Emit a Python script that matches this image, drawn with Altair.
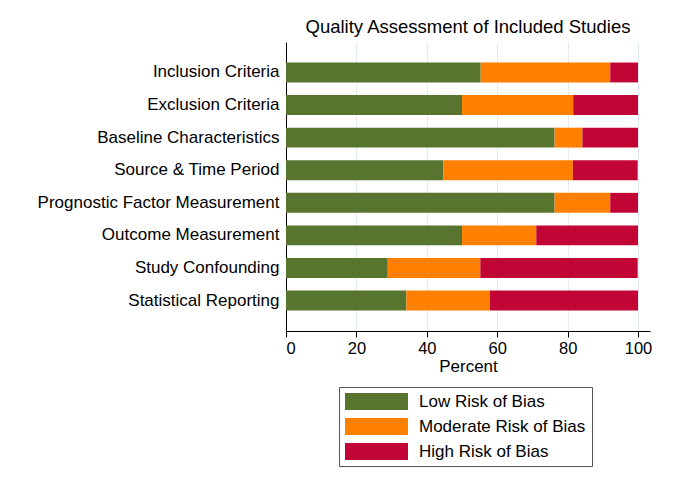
import altair as alt
import pandas as pd

categories = [
    "Inclusion Criteria",
    "Exclusion Criteria",
    "Baseline Characteristics",
    "Source & Time Period",
    "Prognostic Factor Measurement",
    "Outcome Measurement",
    "Study Confounding",
    "Statistical Reporting",
]
low = [55.3, 50.0, 76.3, 44.7, 76.3, 50.0, 28.9, 34.2]
moderate = [36.8, 31.6, 7.9, 36.8, 15.8, 21.1, 26.3, 23.7]
high = [7.9, 18.4, 15.8, 18.4, 7.9, 28.9, 44.7, 42.1]
levels = ["Low Risk of Bias", "Moderate Risk of Bias", "High Risk of Bias"]
colors = ["#587530", "#FF8000", "#C10534"]
x_ticks = [0, 20, 40, 60, 80, 100]

rows = []
for i, c in enumerate(categories):
    for j, (lvl, vals) in enumerate(zip(levels, [low, moderate, high])):
        rows.append({"item": c, "level": lvl, "rank": j, "pct": vals[i]})
df = pd.DataFrame(rows)

FONT = "Liberation Sans"

chart = (
    alt.Chart(df)
    .mark_bar()
    .encode(
        y=alt.Y(
            "item:N",
            sort=categories,
            title=None,
            scale=alt.Scale(paddingInner=0.39, paddingOuter=0.63),
            axis=alt.Axis(
                ticks=False,
                domainColor="#000000",
                domainWidth=1,
                labelFontSize=17,
                labelFont=FONT,
                labelColor="#000000",
                labelPadding=7,
                grid=False,
                labelLimit=400,
            ),
        ),
        x=alt.X(
            "pct:Q",
            stack="zero",
            scale=alt.Scale(domain=[0, 103.4], nice=False),
            axis=alt.Axis(
                values=x_ticks,
                title="Percent",
                titleFontSize=17,
                titleFont=FONT,
                titleFontWeight="normal",
                titleColor="#000000",
                titlePadding=2,
                labelFontSize=16.5,
                labelFont=FONT,
                labelColor="#000000",
                labelPadding=3,
                tickSize=6,
                tickColor="#000000",
                domainColor="#000000",
                grid=True,
                gridColor="#E3ECEF",
                gridWidth=1,
                format="d",
            ),
        ),
        color=alt.Color(
            "level:N",
            scale=alt.Scale(domain=levels, range=colors),
            legend=alt.Legend(
                title=None,
                orient="none",
                legendX=53,
                legendY=345,
                strokeColor="#555555",
                padding=6,
                symbolType="M-1,-1L6.41,-1L6.41,1L-1,1Z",
                symbolSize=289,
                symbolStrokeWidth=0,
                labelFontSize=17,
                labelFont=FONT,
                labelColor="#000000",
                labelOffset=57,
                labelLimit=400,
                rowPadding=7,
            ),
        ),
        order=alt.Order("rank:Q"),
    )
    .properties(
        width=364,
        height=289,
        autosize=alt.AutoSizeParams(type="none"),
        padding={"left": 278, "top": 34, "right": 15, "bottom": 150},
        title=alt.TitleParams(
            "Quality Assessment of Included Studies",
            fontSize=18.5,
            font=FONT,
            fontWeight="normal",
            color="#000000",
            anchor="middle",
            offset=6,
        ),
    )
    .configure_view(strokeWidth=0)
)

chart.save("out.html", embed_options={"renderer": "svg", "actions": False})
